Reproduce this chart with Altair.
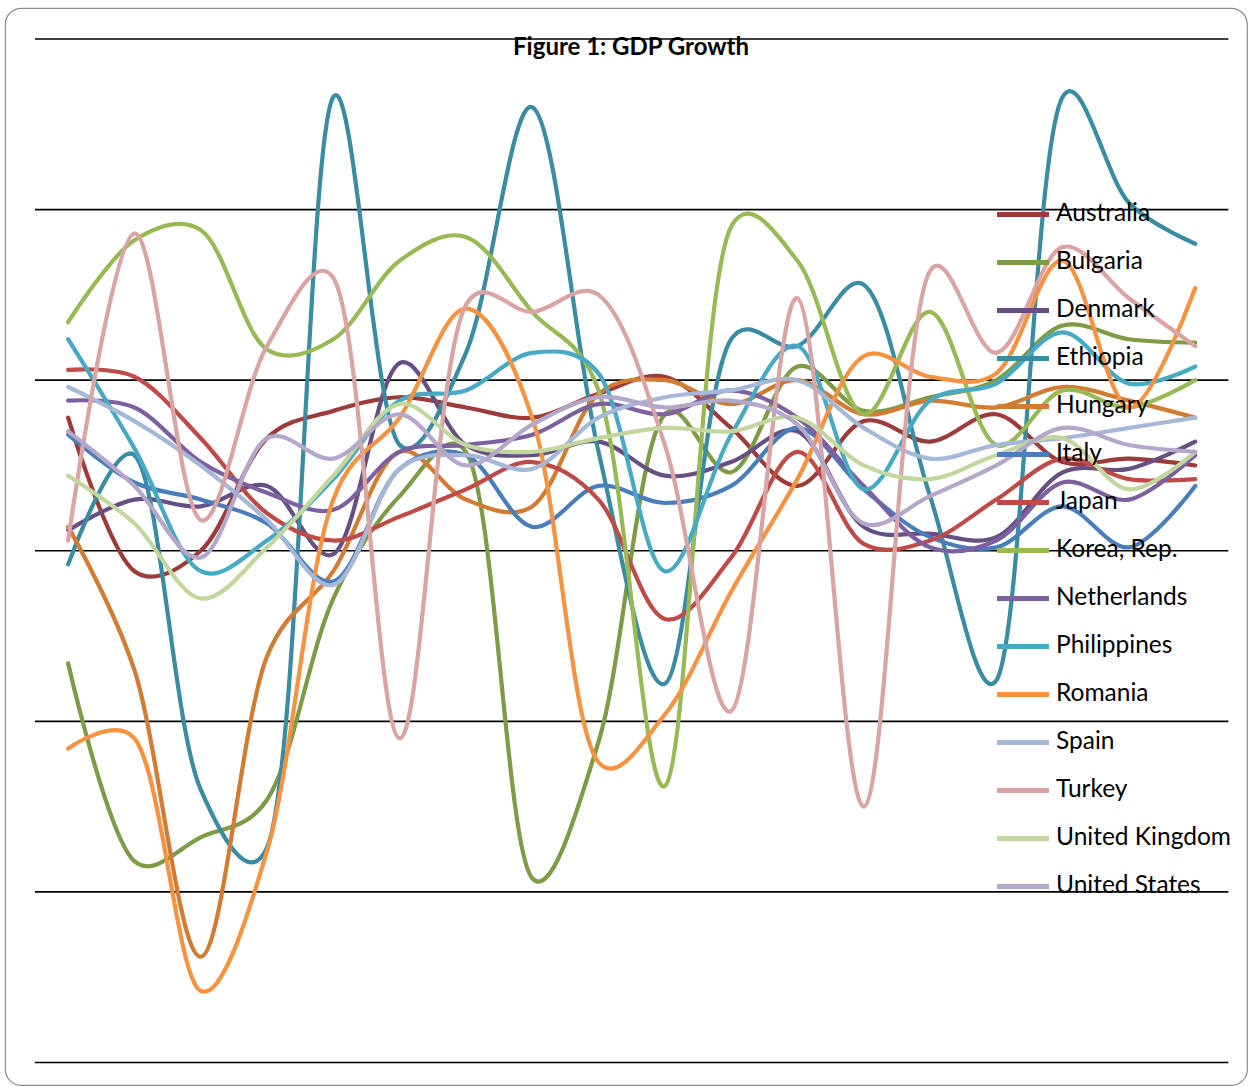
import altair as alt
import pandas as pd

years = list(range(1989, 2007))

countries = ["Australia", "Bulgaria", "Denmark", "Ethiopia", "Hungary", "Italy", "Japan",
             "Korea, Rep.", "Netherlands", "Philippines", "Romania", "Spain", "Turkey",
             "United Kingdom", "United States"]

australia = [3.9, -0.6, 0.0, 3.3, 4.1, 4.5, 4.2, 3.9, 4.6, 5.1, 3.6, 1.9, 3.8, 3.2, 4.0, 2.6, 2.7, 2.5]
bulgaria = [-3.3, -9.1, -8.4, -7.3, -1.4, 1.6, 2.9, -9.6, -5.6, 4.0, 2.3, 5.4, 4.1, 4.5, 5.0, 6.6, 6.2, 6.1]
denmark = [0.6, 1.5, 1.3, 1.9, -0.1, 5.5, 3.1, 2.8, 3.2, 2.2, 2.6, 3.5, 0.7, 0.5, 0.4, 2.3, 2.4, 3.2]
ethiopia = [-0.4, 2.8, -7.0, -8.7, 13.3, 3.1, 5.8, 13.0, 2.9, -3.9, 6.2, 6.0, 7.8, 1.6, -3.8, 13.3, 10.2, 9.0]
hungary = [0.7, -3.5, -11.9, -3.1, -0.6, 2.9, 1.5, 1.3, 4.6, 5.0, 4.3, 5.0, 4.0, 4.4, 4.2, 4.8, 4.4, 3.9]
italy = [3.4, 2.0, 1.5, 0.8, -0.9, 2.4, 2.8, 0.7, 1.9, 1.4, 1.9, 3.6, 1.8, 0.4, 0.1, 1.3, 0.1, 1.9]
japan = [5.3, 5.1, 3.3, 1.1, 0.3, 1.0, 1.8, 2.6, 1.5, -2.0, -0.2, 2.9, 0.2, 0.3, 1.5, 2.7, 2.1, 2.1]
korea = [6.7, 9.1, 9.4, 5.9, 6.2, 8.5, 9.2, 7.0, 4.7, -6.9, 9.5, 8.5, 4.0, 7.0, 3.1, 4.7, 4.2, 5.0]
netherlands = [4.4, 4.2, 2.6, 1.7, 1.2, 2.9, 3.1, 3.4, 4.3, 4.0, 4.7, 3.9, 1.9, 0.1, 0.3, 2.0, 1.5, 2.8]
philippines = [6.2, 3.0, -0.6, 0.3, 2.1, 4.4, 4.7, 5.8, 5.2, -0.6, 3.4, 6.0, 1.8, 4.4, 4.9, 6.4, 4.9, 5.4]
romania = [-5.8, -5.5, -12.9, -8.8, 1.5, 3.9, 7.1, 3.9, -6.2, -4.8, -1.2, 2.1, 5.7, 5.1, 5.2, 8.5, 4.2, 7.7]
spain = [4.8, 3.8, 2.5, 0.9, -1.0, 2.4, 2.8, 2.4, 3.9, 4.5, 4.7, 5.0, 3.6, 2.7, 3.1, 3.3, 3.6, 3.9]
turkey = [0.3, 9.3, 0.9, 6.0, 8.0, -5.5, 7.2, 7.0, 7.5, 3.1, -4.7, 7.4, -7.5, 8.2, 5.8, 8.9, 7.4, 6.0]
uk = [2.2, 0.8, -1.4, 0.1, 2.2, 4.3, 3.1, 2.9, 3.3, 3.6, 3.5, 3.9, 2.5, 2.1, 2.8, 3.3, 1.8, 2.9]
us = [3.5, 1.9, -0.2, 3.3, 2.7, 4.0, 2.5, 3.7, 4.5, 4.2, 4.4, 3.7, 0.8, 1.6, 2.5, 3.6, 3.1, 2.9]

series = [australia, bulgaria, denmark, ethiopia, hungary, italy, japan, korea,
          netherlands, philippines, romania, spain, turkey, uk, us]

colors = ["#9C3B39", "#7F9B45", "#664F82", "#3A8CA3", "#D17B33", "#4A7EBB", "#BE4B48",
          "#98B954", "#7D60A0", "#46AAC5", "#F69240", "#A5B8D8", "#D9A4A3", "#C3D69E", "#B4A7C9"]

gridlines = [-15, -10, -5, 0, 5, 10, 15]

rows = []
for name, vals in zip(countries, series):
    for yr, v in zip(years, vals):
        rows.append({"Country": name, "Year": yr, "Growth": v})
df = pd.DataFrame(rows)
grid_df = pd.DataFrame({"g": gridlines,
                        "x0": [years[0] - 0.5] * len(gridlines),
                        "x1": [years[-1] + 0.5] * len(gridlines)})

x_scale = alt.Scale(domain=[1988.048, 2006.781], nice=False, zero=False)
y_scale = alt.Scale(domain=[-15.66, 15.909], nice=False, zero=False)

grid = alt.Chart(grid_df).mark_rule(color="#000000", strokeWidth=1.6).encode(
    y=alt.Y("g:Q", scale=y_scale, axis=None),
    x=alt.X("x0:Q", scale=x_scale, axis=None),
    x2="x1:Q",
)

lines = alt.Chart(df).mark_line(interpolate="catmull-rom", tension=0.25, strokeWidth=4.2,
                                strokeCap="round", strokeJoin="round").encode(
    x=alt.X("Year:Q", scale=x_scale, axis=None),
    y=alt.Y("Growth:Q", scale=y_scale, axis=None),
    color=alt.Color(
        "Country:N",
        scale=alt.Scale(domain=countries, range=colors),
        legend=alt.Legend(
            title=None,
            orient="none",
            legendX=989.5,
            legendY=182.5,
            symbolType="stroke",
            symbolSize=2704,
            symbolStrokeWidth=5,
            labelFont="Lato",
            labelFontSize=24.5,
            labelColor="#000000",
            labelLimit=400,
            labelOffset=4.5,
            clipHeight=47.85,
            rowPadding=0,
            padding=0,
        ),
    ),
)

chart = alt.layer(grid, lines).properties(
    width=1242,
    height=1077,
    title=alt.TitleParams(
        "Figure 1: GDP Growth",
        font="Lato",
        fontSize=24,
        fontWeight="bold",
        color="#000000",
        anchor="middle",
        baseline="alphabetic",
        offset=-71,
        dx=5,
    ),
).configure(
    background="#FFFFFF",
    padding={"left": 5, "top": 8, "right": 5, "bottom": 2},
).configure_view(
    stroke="#8A8A8A",
    strokeWidth=1.2,
    cornerRadius=16,
)

chart.save("out.html", embed_options={"renderer": "svg", "actions": False})
